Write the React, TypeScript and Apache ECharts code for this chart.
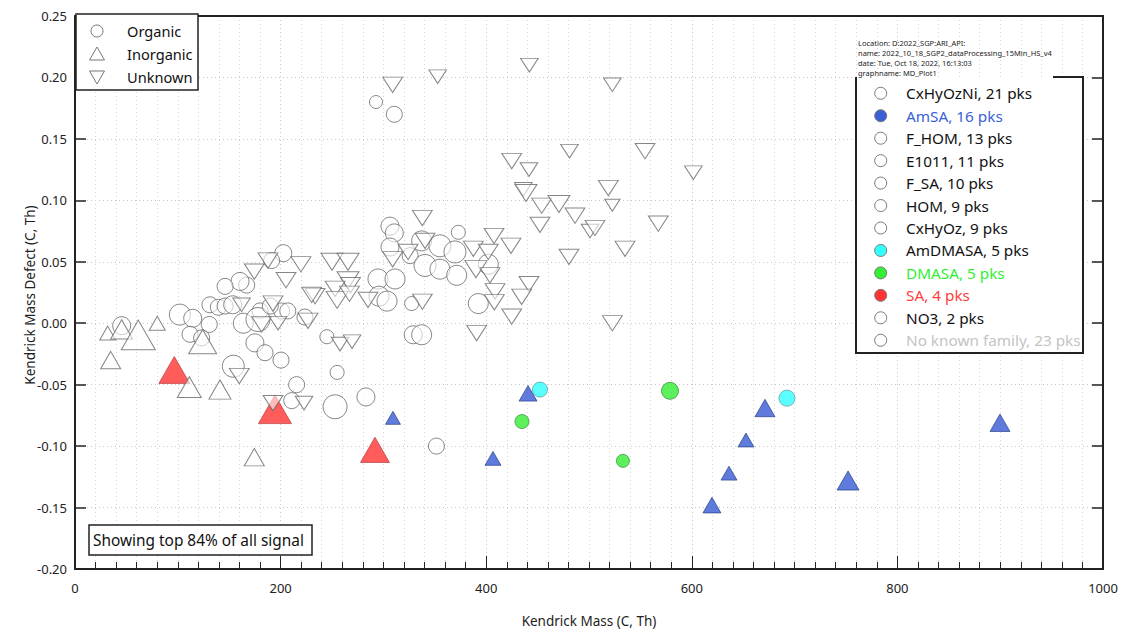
import React, { useEffect, useRef } from "react";
import * as echarts from "echarts";

// [Kendrick mass, Kendrick mass defect, relative signal (marker size)]
const organic: number[][] = [
  [292.8, 0.18, 13], [310.6, 0.17, 16], [306.4, 0.079, 18], [310.6, 0.0735, 18], [306.4, 0.062, 18],
  [326, 0.055, 16], [337.2, 0.067, 20], [355, 0.063, 22], [369.6, 0.058, 22], [372.9, 0.074, 14],
  [402, 0.048, 20], [340.5, 0.047, 22], [355, 0.044, 20], [371.3, 0.039, 20], [294.7, 0.036, 20],
  [311.3, 0.036, 20], [295.7, 0.022, 20], [303.5, 0.018, 20], [327.5, 0.016, 14], [392.3, 0.016, 20],
  [329, -0.0094, 18], [337.2, -0.0094, 20], [245, -0.011, 14], [255, -0.04, 14], [215.6, -0.05, 16],
  [210.8, -0.063, 16], [253, -0.068, 24], [283, -0.06, 18], [351.6, -0.1, 16], [202.6, 0.057, 17],
  [191.3, 0.051, 16], [167, 0.031, 16], [160.5, 0.034, 18], [146, 0.03, 16], [131.3, 0.015, 16],
  [139.4, 0.013, 16], [146, 0.014, 16], [153.4, 0.015, 18], [163.7, 0.0, 20], [175, -0.016, 18],
  [184.8, -0.024, 16], [200.4, -0.03, 16], [154, -0.035, 22], [102, 0.007, 21], [114.5, 0.004, 18],
  [130.6, -0.001, 16], [111.9, -0.009, 16], [123.2, -0.012, 16], [45.4, -0.002, 18], [180, 0.01, 16],
  [178, 0.003, 24], [201, 0.01, 16], [207, 0.01, 16], [190, 0.014, 16], [223.7, 0.005, 16],
];
const inorganic: number[][] = [
  [31.8, -0.008, 16], [45.4, -0.005, 22], [61.6, -0.0095, 34], [80, 0.0, 16], [34.7, -0.03, 20],
  [111.2, -0.052, 24], [141, -0.054, 22], [124.2, -0.015, 28], [174.4, -0.109, 20],
];
const unknown: number[][] = [
  [309, 0.194, 18], [352.8, 0.2006, 16], [442, 0.21, 16], [522.7, 0.194, 16], [481, 0.14, 16],
  [554.5, 0.14, 18], [424.8, 0.132, 18], [441.6, 0.125, 16], [601.5, 0.1225, 16], [436.1, 0.109, 16],
  [438.7, 0.106, 20], [518.8, 0.11, 18], [522.7, 0.096, 14], [454, 0.0956, 18], [470.8, 0.097, 20],
  [486.4, 0.0875, 18], [452.3, 0.08, 18], [501, 0.075, 16], [505.8, 0.0775, 18], [567.4, 0.081, 18],
  [535, 0.0606, 18], [480.5, 0.054, 18], [522.7, 0.0, 18], [337.9, 0.0856, 18], [407.6, 0.071, 18],
  [424.1, 0.063, 18], [387.5, 0.0606, 18], [402, 0.058, 18], [390, 0.044, 20], [403.7, 0.039, 18],
  [441.6, 0.0318, 18], [408.6, 0.026, 18], [434.5, 0.0215, 18], [407.9, 0.017, 18], [424.8, 0.0054, 18],
  [390.7, -0.008, 18], [337.9, 0.0175, 18], [340.5, 0.067, 18], [324, 0.058, 18], [309, 0.052, 18],
  [250, 0.05, 20], [265.6, 0.05, 20], [265.6, 0.035, 20], [268, 0.031, 18], [253, 0.028, 18],
  [233.5, 0.022, 18], [255, 0.019, 20], [267, 0.024, 18], [285, 0.019, 18], [257.8, -0.017, 16],
  [269.5, -0.015, 16], [226.7, 0.002, 18], [187.7, 0.051, 18], [219.8, 0.048, 18], [174.4, 0.042, 18],
  [205.3, 0.035, 18], [230.2, 0.023, 18], [162, 0.015, 16], [181.6, -0.001, 18], [197.5, 0.0, 16],
  [192.6, 0.016, 18], [159.8, -0.043, 18], [192.6, -0.065, 18], [222.8, -0.065, 16],
];
const amSA: number[][] = [
  [440.7, -0.057, 18], [309.3, -0.077, 15], [406.6, -0.11, 16], [619.6, -0.148, 18], [636.2, -0.122, 16],
  [652.7, -0.095, 16], [671.2, -0.069, 20], [752, -0.128, 22], [899.8, -0.081, 20],
];
const amDMASA: number[][] = [[452.3, -0.054, 15], [692.6, -0.061, 16]];
const dmaSA: number[][] = [[578.8, -0.055, 17], [434.8, -0.08, 14], [533, -0.112, 13]];
const sa: number[][] = [[96.6, -0.038, 31], [194.5, -0.07, 33], [291.8, -0.103, 29]];

const shapeLegend = ["Organic", "Inorganic", "Unknown"];
const familyLegend = [
  "CxHyOzNi, 21 pks", "AmSA, 16 pks", "F_HOM, 13 pks", "E1011, 11 pks", "F_SA, 10 pks", "HOM, 9 pks",
  "CxHyOz, 9 pks", "AmDMASA, 5 pks", "DMASA, 5 pks", "SA, 4 pks", "NO3, 2 pks", "No known family, 23 pks",
];
const familyFill = ["none", "#3a5fd6", "none", "none", "none", "none", "none", "#33ffff", "#33ee33", "#ff3333", "none", "none"];
const familyText = ["#111", "#3a5fd6", "#111", "#111", "#111", "#111", "#111", "#111", "#33ee33", "#ff4040", "#111", "#c4c4c4"];
const infoLines = [
  "Location: D:2022_SGP:ARI_API:",
  "name: 2022_10_18_SGP2_dataProcessing_15Min_HS_v4",
  "date: Tue, Oct 18, 2022, 16:13:03",
  "graphname: MD_Plot1",
];
const noteText = "Showing top 84% of all signal";
const yTitle = "Kendrick Mass Defect (C, Th)";

const FONT = "'Noto Sans', 'DejaVu Sans', sans-serif";
const DOWN = "path://M0,0L20,0L10,20Z";
const triSize = (v: number[]) => [v[2], v[2] * 0.87];
const whiteStyle = { color: "rgba(255,255,255,0.72)", borderColor: "#686868", borderWidth: 1 };

export default function App() {
  const ref = useRef<HTMLDivElement>(null);
  useEffect(() => {
    const chart = echarts.init(ref.current!, null, { renderer: "svg" });
    const graphics: any[] = [];
    // y-axis title
    graphics.push({ type: "text", x: 30, y: 295, rotation: Math.PI / 2, style: { text: yTitle, fontSize: 13.5, fontFamily: FONT, fill: "#222", align: "center", verticalAlign: "middle" }, z: 101 });
    // top-left legend
    graphics.push({ type: "rect", shape: { x: 76, y: 14, width: 122, height: 76 }, style: { fill: "#fff", stroke: "#222", lineWidth: 1.5 }, z: 100 });
    graphics.push({ type: "circle", shape: { cx: 97, cy: 31, r: 6 }, style: { fill: "none", stroke: "#777", lineWidth: 1 }, z: 101 });
    graphics.push({ type: "polygon", shape: { points: [[97, 47], [89.5, 60], [104.5, 60]] }, style: { fill: "none", stroke: "#777", lineWidth: 1 }, z: 101 });
    graphics.push({ type: "polygon", shape: { points: [[89.5, 71], [104.5, 71], [97, 84]] }, style: { fill: "none", stroke: "#777", lineWidth: 1 }, z: 101 });
    shapeLegend.forEach((t, i) => {
      graphics.push({ type: "text", x: 127, y: 31 + i * 23, style: { text: t, fontSize: 14.6, fontFamily: FONT, fill: "#111", verticalAlign: "middle" }, z: 101 });
    });
    // right legend box (top edge partly hidden by info text)
    graphics.push({ type: "rect", shape: { x: 856, y: 77, width: 227, height: 276 }, style: { fill: "#fff", stroke: "none" }, z: 100 });
    graphics.push({ type: "polyline", shape: { points: [[1053, 77], [1083, 77], [1083, 353], [856, 353], [856, 77]] }, style: { stroke: "#222", lineWidth: 2, fill: "none" }, z: 101 });
    familyLegend.forEach((t, i) => {
      const cy = 93.3 + i * 22.45;
      graphics.push({ type: "circle", shape: { cx: 880.7, cy, r: 6 }, style: { fill: familyFill[i] === "none" ? "#fff" : familyFill[i], stroke: "#777", lineWidth: 1 }, z: 101 });
      graphics.push({ type: "text", x: 906, y: cy, style: { text: t, fontSize: 15.3, fontFamily: FONT, fill: familyText[i], verticalAlign: "middle" }, z: 101 });
    });
    infoLines.forEach((t, i) => {
      graphics.push({ type: "text", x: 858, y: 42.5 + i * 10, style: { text: t, fontSize: 7.5, fontFamily: FONT, fill: "#222", verticalAlign: "middle" }, z: 101 });
    });
    // note box
    graphics.push({ type: "rect", shape: { x: 89, y: 525, width: 223, height: 30 }, style: { fill: "#fff", stroke: "#222", lineWidth: 1.5 }, z: 100 });
    graphics.push({ type: "text", x: 93, y: 540, style: { text: noteText, fontSize: 15.4, fontFamily: FONT, fill: "#111", verticalAlign: "middle" }, z: 101 });

    const option: any = {
      animation: false,
      backgroundColor: "#fff",
      textStyle: { fontFamily: FONT },
      grid: { left: 75, right: 39, top: 16, bottom: 60 },
      xAxis: [
        {
          type: "value", min: 0, max: 1000, interval: 200, position: "bottom",
          axisLine: { show: true, onZero: false, lineStyle: { color: "#222", width: 2 } },
          axisTick: { show: true, inside: true, length: 13, lineStyle: { color: "#222", width: 1 } },
          minorTick: { show: true, splitNumber: 10, length: 7, lineStyle: { color: "#222", width: 1 } },
          splitLine: { show: true, lineStyle: { type: [1, 3], color: "#c8c8c8" } },
          minorSplitLine: { show: true, lineStyle: { type: [1, 3], color: "#d4d4d4" } },
          axisLabel: { fontSize: 13, color: "#222", margin: 12, fontFamily: FONT, formatter: (v: number) => String(v) },
          name: "Kendrick Mass (C, Th)", nameLocation: "middle", nameGap: 45,
          nameTextStyle: { fontSize: 13.5, color: "#222", fontFamily: FONT },
        },
        {
          type: "value", min: 0, max: 1000, position: "top",
          axisLine: { show: true, onZero: false, lineStyle: { color: "#222", width: 2 } },
          axisTick: { show: false }, axisLabel: { show: false }, splitLine: { show: false },
        },
      ],
      yAxis: [
        {
          type: "value", min: -0.2, max: 0.25, interval: 0.05, position: "left",
          axisLine: { show: true, onZero: false, lineStyle: { color: "#222", width: 2 } },
          axisTick: { show: true, inside: true, length: 11, lineStyle: { color: "#222", width: 1.5 } },
          splitLine: { show: true, lineStyle: { type: [1, 3], color: "#c8c8c8" } },
          axisLabel: { fontSize: 13, color: "#222", margin: 8, fontFamily: FONT, formatter: (v: number) => v.toFixed(2) },
        },
        {
          type: "value", min: -0.2, max: 0.25, interval: 0.05, position: "right",
          axisLine: { show: true, onZero: false, lineStyle: { color: "#222", width: 2 } },
          axisTick: { show: true, inside: true, length: 11, lineStyle: { color: "#222", width: 1.5 } },
          axisLabel: { show: false }, splitLine: { show: false },
        },
      ],
      graphic: graphics,
      series: [
        { type: "scatter", name: "SA", data: sa, symbol: "triangle", symbolSize: triSize, itemStyle: { color: "#ff3333", borderColor: "#b03030", borderWidth: 0.8 }, z: 2 },
        { type: "scatter", name: "Organic", data: organic, symbol: "circle", symbolSize: (v: number[]) => v[2], itemStyle: whiteStyle, z: 3 },
        { type: "scatter", name: "Inorganic", data: inorganic, symbol: "triangle", symbolSize: triSize, itemStyle: whiteStyle, z: 3 },
        { type: "scatter", name: "Unknown", data: unknown, symbol: DOWN, symbolSize: (v: number[]) => [v[2] * 1.1, v[2] * 0.85], itemStyle: whiteStyle, z: 3 },
        { type: "scatter", name: "AmSA", data: amSA, symbol: "triangle", symbolSize: triSize, itemStyle: { color: "#375ad2", borderColor: "#1f3580", borderWidth: 0.8 }, z: 4 },
        { type: "scatter", name: "AmDMASA", data: amDMASA, symbol: "circle", symbolSize: (v: number[]) => v[2], itemStyle: { color: "#33ffff", borderColor: "#4a8a8a", borderWidth: 0.8 }, z: 4 },
        { type: "scatter", name: "DMASA", data: dmaSA, symbol: "circle", symbolSize: (v: number[]) => v[2], itemStyle: { color: "#33ee33", borderColor: "#2a7a2a", borderWidth: 0.8 }, z: 4 },
      ],
    };
    chart.setOption(option);
    return () => chart.dispose();
  }, []);
  return <div ref={ref} style={{ position: "fixed", left: 0, top: 0, width: 1142, height: 633 }} />;
}
